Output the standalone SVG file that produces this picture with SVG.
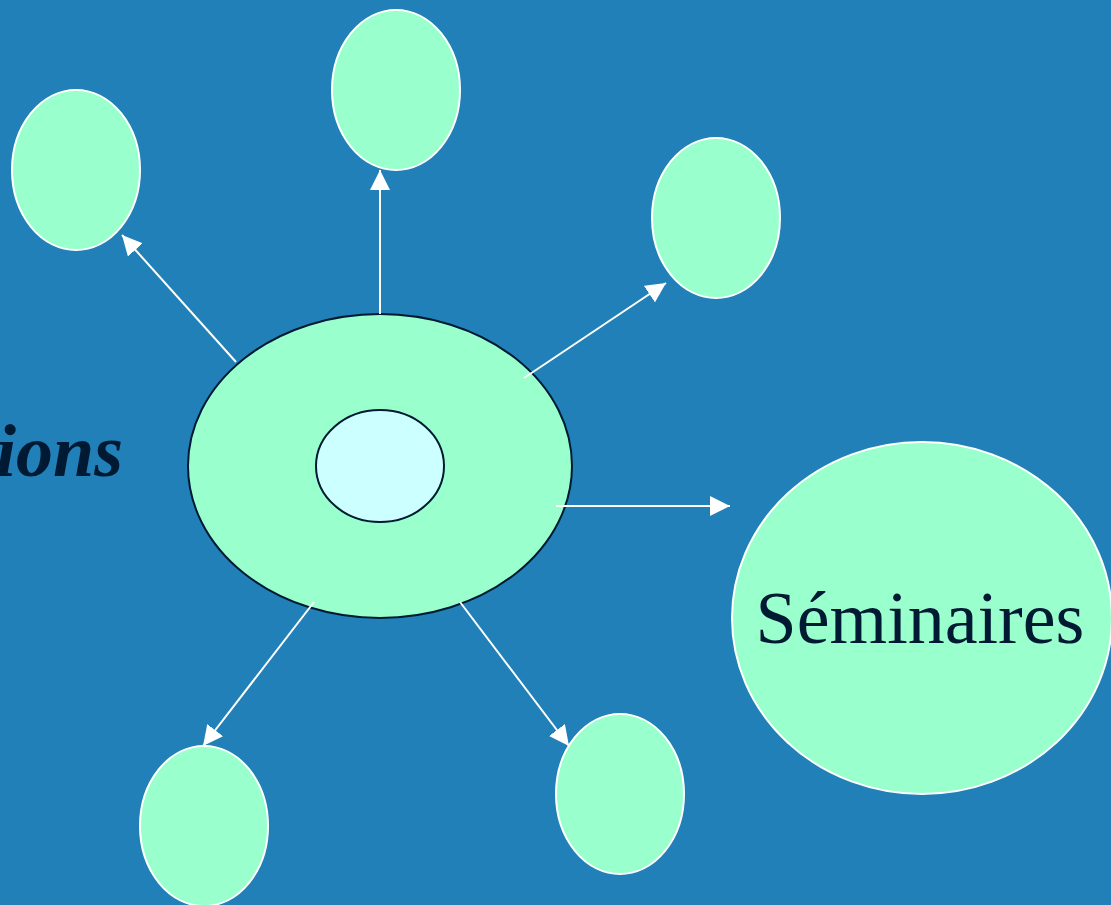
<svg xmlns="http://www.w3.org/2000/svg" width="1111" height="905" viewBox="0 0 1111 905">
<style>
.sat{fill:#99FFCC;stroke:#FFFFFF;stroke-width:2}
.core{fill:#99FFCC;stroke:#001A33;stroke-width:2}
.inner{fill:#CCFFFF;stroke:#001A33;stroke-width:2}
.con{stroke:#FFFFFF;stroke-width:2;fill:none;marker-end:url(#ah)}
.lbl{font-family:"Liberation Serif","Times New Roman",serif;fill:#001A33;font-size:74px}
</style>
<defs>
<marker id="ah" viewBox="0 0 20 20" refX="20" refY="10" markerWidth="20" markerHeight="20" markerUnits="userSpaceOnUse" orient="auto">
<path d="M0,0 L20,10 L0,20 z" fill="#FFFFFF"/>
</marker>
</defs>
<rect x="0" y="0" width="1111" height="905" fill="#2180B7"/>
<text class="lbl" x="123" y="476" text-anchor="end" font-weight="bold" font-style="italic">ions</text>
<g id="center"><ellipse class="core" cx="380" cy="466" rx="192" ry="152"/></g>
<g id="center-inner"><ellipse class="inner" cx="380" cy="466" rx="64" ry="56"/></g>
<g id="connectors">
<line class="con" x1="236" y1="362" x2="122" y2="235"/>
<line class="con" x1="380" y1="314" x2="380" y2="170"/>
<line class="con" x1="524" y1="378" x2="666" y2="283"/>
<line class="con" x1="556" y1="506" x2="730" y2="506"/>
<line class="con" x1="314" y1="602" x2="203" y2="746"/>
<line class="con" x1="460" y1="602" x2="569" y2="746"/>
</g>
<g id="node-topleft"><ellipse class="sat" cx="76" cy="170" rx="64" ry="80"/></g>
<g id="node-top"><ellipse class="sat" cx="396" cy="90" rx="64" ry="80"/></g>
<g id="node-topright"><ellipse class="sat" cx="716" cy="218" rx="64" ry="80"/></g>
<g id="node-bottomleft"><ellipse class="sat" cx="204" cy="826" rx="64" ry="80"/></g>
<g id="node-bottomright"><ellipse class="sat" cx="620" cy="794" rx="64" ry="80"/></g>
<g id="node-seminaires"><ellipse class="sat" cx="922" cy="618" rx="190" ry="176"/>
<text class="lbl" x="920" y="643" text-anchor="middle">Séminaires</text></g>
</svg>
